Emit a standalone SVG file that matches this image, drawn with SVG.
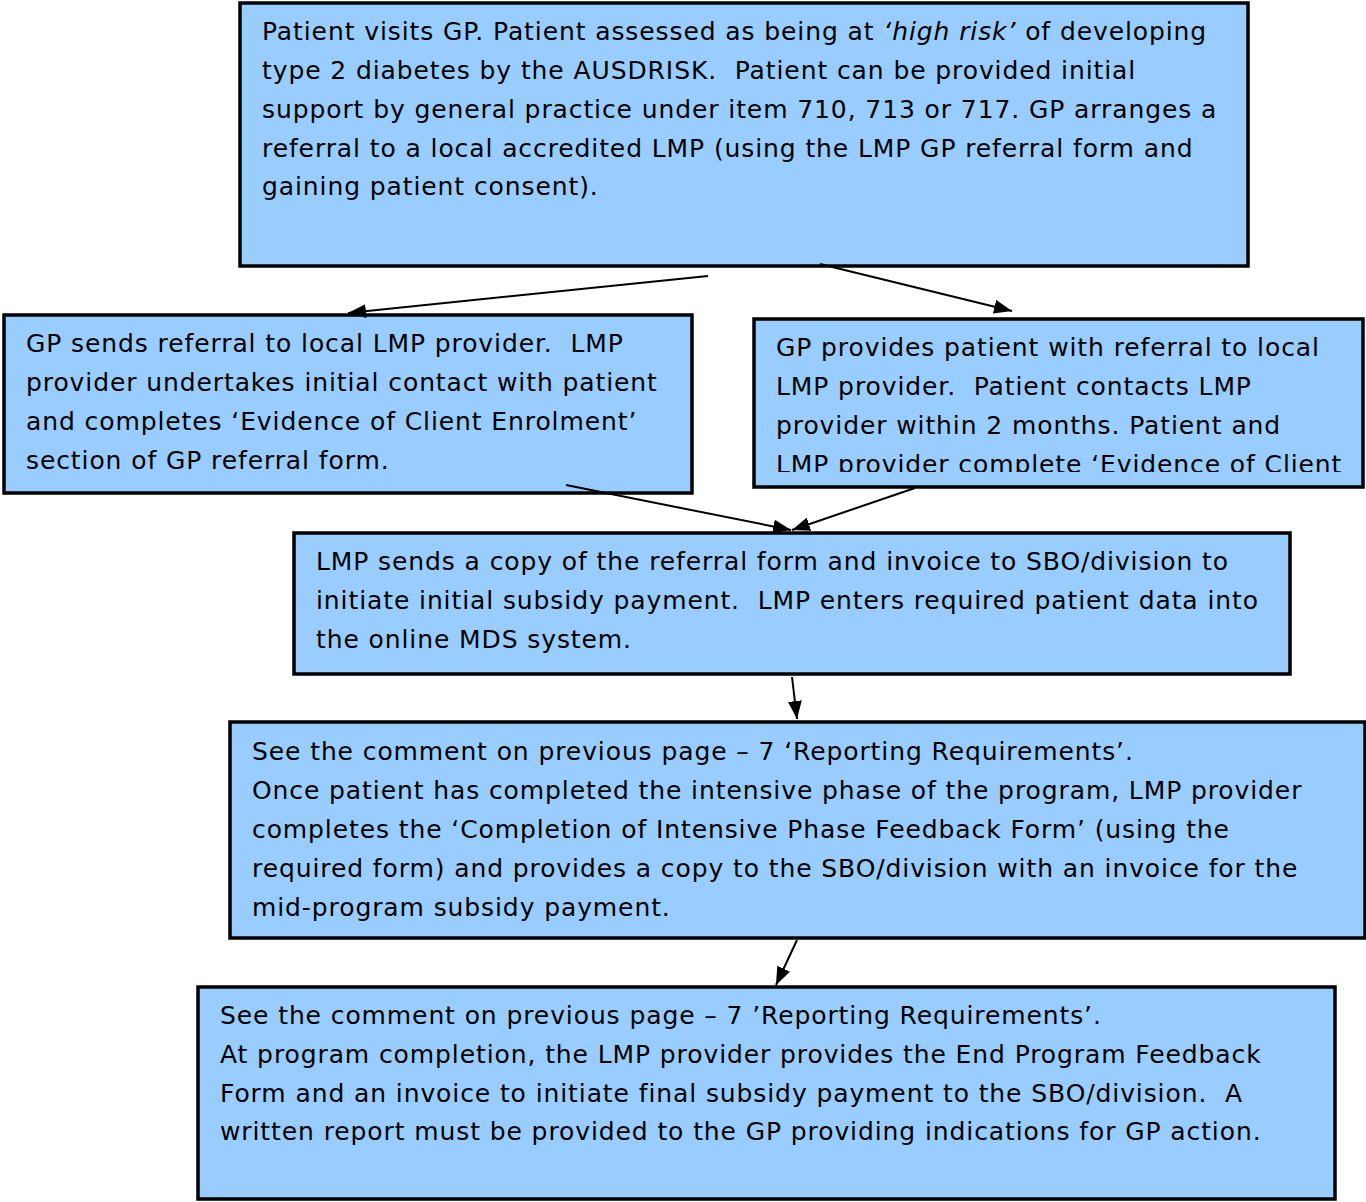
<svg xmlns="http://www.w3.org/2000/svg" width="1366" height="1202" viewBox="0 0 1366 1202">
<style>
.box{fill:#99ccff;stroke:#000;stroke-width:3.5}
.t{font-family:"DejaVu Sans",Verdana,sans-serif;font-size:25px;letter-spacing:0.9px;fill:#000;white-space:pre}
.c{stroke:#000;stroke-width:2;fill:none;marker-end:url(#ah)}
</style>
<defs>
<marker id="ah" viewBox="0 0 18 14" refX="18" refY="7" markerWidth="18" markerHeight="14" markerUnits="userSpaceOnUse" orient="auto"><path d="M0,0 L18,7 L0,14 z" fill="#000"/></marker>
<clipPath id="cl3"><rect x="754" y="319" width="609" height="153"/></clipPath>
</defs>
<rect width="1366" height="1202" fill="#fff"/>
<g id="n1"><rect class="box" x="240" y="3" width="1008" height="263"/>
<text class="t" x="262" y="40">Patient visits GP. Patient assessed as being at <tspan font-style="italic">‘high risk’</tspan> of developing</text>
<text class="t" x="262" y="79">type 2 diabetes by the AUSDRISK.  Patient can be provided initial</text>
<text class="t" x="262" y="118">support by general practice under item 710, 713 or 717. GP arranges a</text>
<text class="t" x="262" y="157">referral to a local accredited LMP (using the LMP GP referral form and</text>
<text class="t" x="262" y="195">gaining patient consent).</text></g>
<g id="n2"><rect class="box" x="4" y="315" width="688" height="178"/>
<text class="t" x="26" y="352">GP sends referral to local LMP provider.  LMP</text>
<text class="t" x="26" y="391">provider undertakes initial contact with patient</text>
<text class="t" x="26" y="430">and completes ‘Evidence of Client Enrolment’</text>
<text class="t" x="26" y="469">section of GP referral form.</text></g>
<g id="n3"><rect class="box" x="754" y="319" width="609" height="168"/>
<g clip-path="url(#cl3)">
<text class="t" x="776" y="356">GP provides patient with referral to local</text>
<text class="t" x="776" y="395">LMP provider.  Patient contacts LMP</text>
<text class="t" x="776" y="434">provider within 2 months. Patient and</text>
<text class="t" x="776" y="473">LMP provider complete ‘Evidence of Client</text></g></g>
<g id="n4"><rect class="box" x="294" y="533" width="996" height="141"/>
<text class="t" x="316" y="570">LMP sends a copy of the referral form and invoice to SBO/division to</text>
<text class="t" x="316" y="609">initiate initial subsidy payment.  LMP enters required patient data into</text>
<text class="t" x="316" y="648">the online MDS system.</text></g>
<g id="n5"><rect class="box" x="230" y="722" width="1135" height="216"/>
<text class="t" x="252" y="760">See the comment on previous page – 7 ‘Reporting Requirements’.</text>
<text class="t" x="252" y="799">Once patient has completed the intensive phase of the program, LMP provider</text>
<text class="t" x="252" y="838">completes the ‘Completion of Intensive Phase Feedback Form’ (using the</text>
<text class="t" x="252" y="877">required form) and provides a copy to the SBO/division with an invoice for the</text>
<text class="t" x="252" y="916">mid-program subsidy payment.</text></g>
<g id="n6"><rect class="box" x="198" y="987" width="1137" height="212"/>
<text class="t" x="220" y="1024">See the comment on previous page – 7 ’Reporting Requirements’.</text>
<text class="t" x="220" y="1063">At program completion, the LMP provider provides the End Program Feedback</text>
<text class="t" x="220" y="1102">Form and an invoice to initiate final subsidy payment to the SBO/division.  A</text>
<text class="t" x="220" y="1140">written report must be provided to the GP providing indications for GP action.</text></g>
<g id="connectors">
<line class="c" x1="708" y1="276" x2="348" y2="313"/>
<line class="c" x1="820" y1="264" x2="1012" y2="311"/>
<line class="c" x1="566" y1="485" x2="791" y2="530"/>
<line class="c" x1="915" y1="488" x2="792" y2="530"/>
<line class="c" x1="792" y1="677" x2="797" y2="719"/>
<line class="c" x1="797" y1="940" x2="776" y2="985"/>
</g>
</svg>
